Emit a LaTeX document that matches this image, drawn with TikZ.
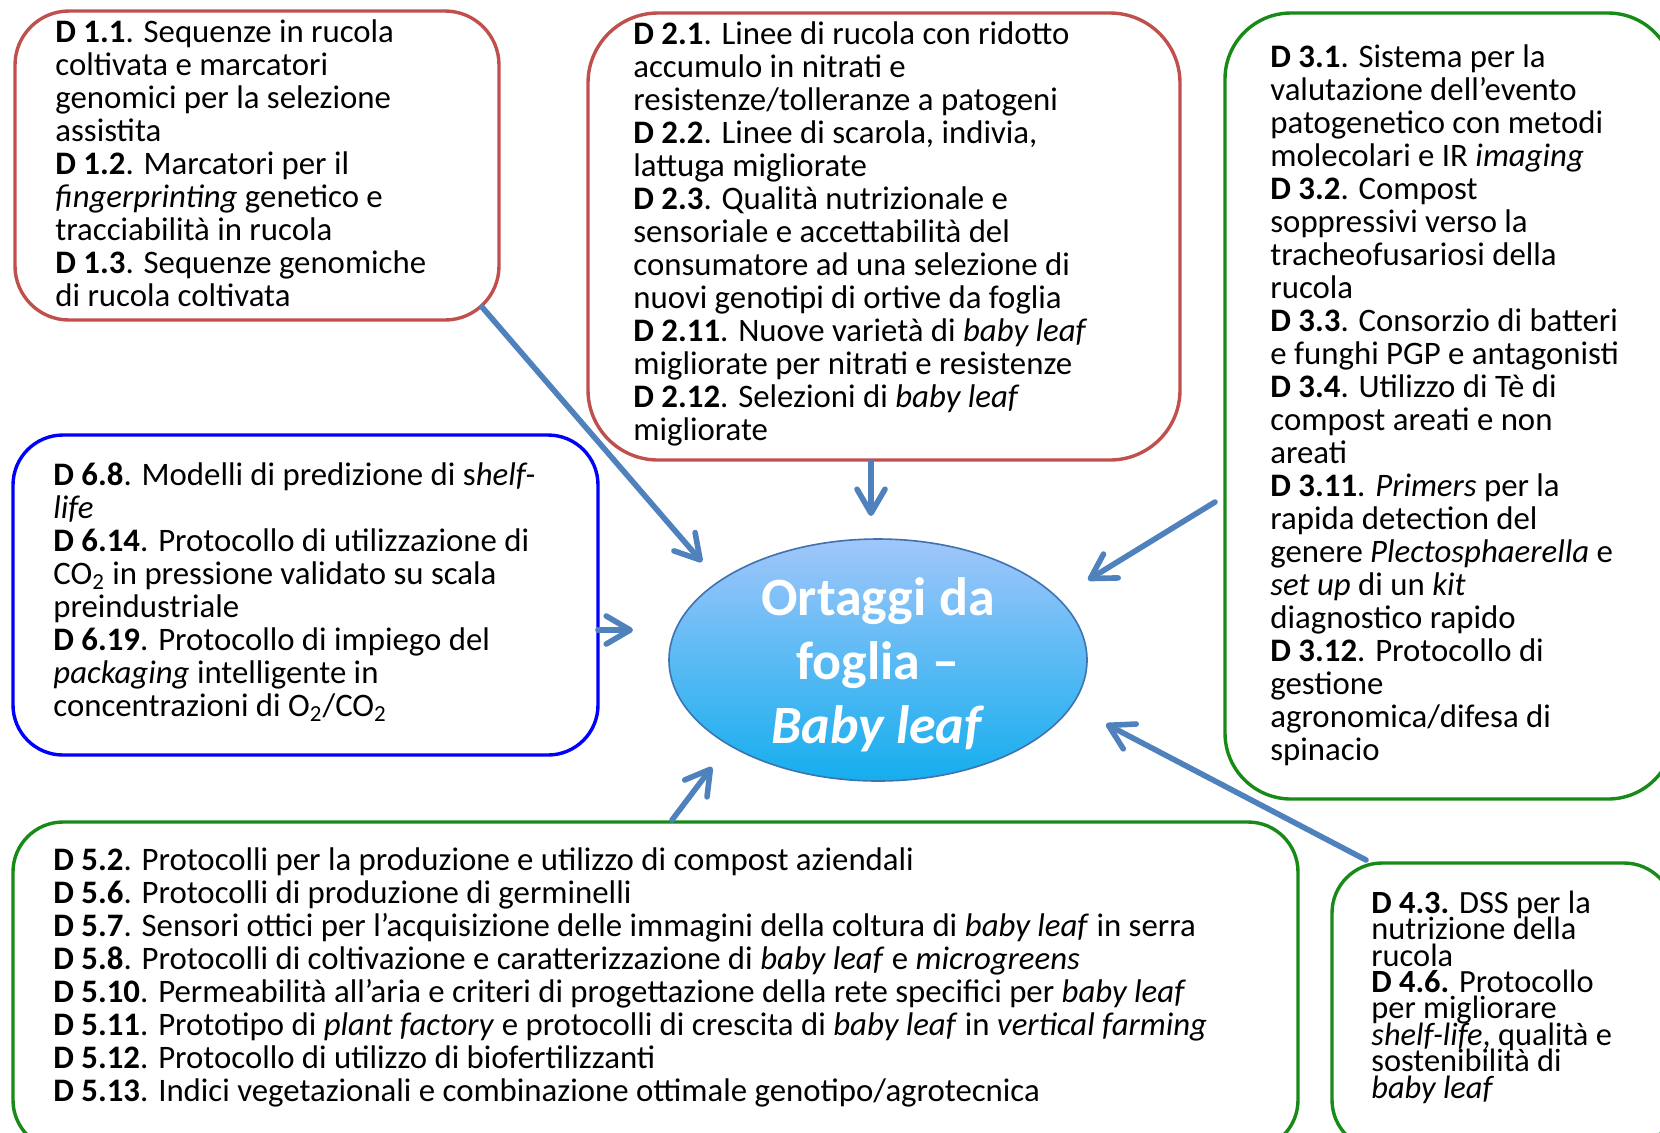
\documentclass[tikz,border=0pt]{standalone}
\usepackage{fontspec}
\setmainfont{Carlito}
\usepackage{tikz}
\usetikzlibrary{arrows.meta, fit, shapes.geometric}

\definecolor{rosso}{HTML}{C0504D}
\definecolor{verde}{HTML}{178A17}
\definecolor{blu}{HTML}{0000FF}
\definecolor{azzurro}{HTML}{4F81BD}
\definecolor{celestino}{HTML}{A0C6FA}
\definecolor{celeste}{HTML}{15AEEE}
\definecolor{bordoellisse}{HTML}{3F72AF}

% interlinea stretta per il riquadro D 4
\newcommand{\interlineastretta}{\fontsize{16.2}{13.2}\selectfont\lineskiplimit=-100pt\relax}

\begin{document}
\begin{tikzpicture}[x=0.5pt, y=-0.5pt,
  riquadro/.style={draw, line width=1.7pt, fill=white, inner sep=0pt},
  testo/.style={anchor=base west, align=left, inner sep=0pt,
    font=\fontsize{16.4}{16.5}\selectfont},
  freccia/.style={draw=azzurro, line width=2.8pt, line cap=round,
    -{Straight Barb[round, length=12pt, width=14pt]}}]

  % area visibile
  \clip (0,0) rectangle (1660,1132);

  % riquadri
  \node[riquadro, draw=rosso, rounded corners=27pt, fit={(15,11) (499,320)}] (d1) {};
  \node[riquadro, draw=rosso, rounded corners=35pt, fit={(588,13) (1180,460)}] (d2) {};
  \node[riquadro, draw=verde, rounded corners=33pt, fit={(1225,13) (1674,799)}] (d3) {};
  \node[riquadro, draw=blu, rounded corners=25pt, fit={(13,435) (598,755)}] (d6) {};
  \node[riquadro, draw=verde, rounded corners=25pt, fit={(13,822) (1298,1150)}] (d5) {};
  \node[riquadro, draw=verde, rounded corners=25pt, fit={(1332,863) (1674,1150)}] (d4) {};

  % testi dei riquadri (ancorati alla base dell'ultima riga)
  \node[testo] (t1) at (55,306) {\textbf{D 1.1}. Sequenze in rucola\\
    coltivata e marcatori\\
    genomici per la selezione\\
    assistita\\
    \textbf{D 1.2}. Marcatori per il\\
    \textit{fingerprinting} genetico e\\
    tracciabilità in rucola\\
    \textbf{D 1.3}. Sequenze genomiche\\
    di rucola coltivata};

  \node[testo] (t2) at (633,440) {\textbf{D 2.1}. Linee di rucola con ridotto\\
    accumulo in nitrati e\\
    resistenze/tolleranze a patogeni\\
    \textbf{D 2.2}. Linee di scarola, indivia,\\
    lattuga migliorate\\
    \textbf{D 2.3}. Qualità nutrizionale e\\
    sensoriale e accettabilità del\\
    consumatore ad una selezione di\\
    nuovi genotipi di ortive da foglia\\
    \textbf{D 2.11}. Nuove varietà di \textit{baby leaf}\\
    migliorate per nitrati e resistenze\\
    \textbf{D 2.12}. Selezioni di \textit{baby leaf}\\
    migliorate};

  \node[testo] (t3) at (1270,760) {\textbf{D 3.1}. Sistema per la\\
    valutazione dell’evento\\
    patogenetico con metodi\\
    molecolari e IR \textit{imaging}\\
    \textbf{D 3.2}. Compost\\
    soppressivi verso la\\
    tracheofusariosi della\\
    rucola\\
    \textbf{D 3.3}. Consorzio di batteri\\
    e funghi PGP e antagonisti\\
    \textbf{D 3.4}. Utilizzo di Tè di\\
    compost areati e non\\
    areati\\
    \textbf{D 3.11}. \textit{Primers} per la\\
    rapida detection del\\
    genere \textit{Plectosphaerella} e\\
    \textit{set up} di un \textit{kit}\\
    diagnostico rapido\\
    \textbf{D 3.12}. Protocollo di\\
    gestione\\
    agronomica/difesa di\\
    spinacio};

  \node[testo] (t6) at (53,716) {\textbf{D 6.8}. Modelli di predizione di s\textit{helf-}\\
    \textit{life}\\
    \textbf{D 6.14}. Protocollo di utilizzazione di\\
    CO\textsubscript{2} in pressione validato su scala\\
    preindustriale\\
    \textbf{D 6.19}. Protocollo di impiego del\\
    \textit{packaging} intelligente in\\
    concentrazioni di O\textsubscript{2}/CO\textsubscript{2}};

  \node[testo] (t5) at (53,1101) {\textbf{D 5.2}. Protocolli per la produzione e utilizzo di compost aziendali\\
    \textbf{D 5.6}. Protocolli di produzione di germinelli\\
    \textbf{D 5.7}. Sensori ottici per l’acquisizione delle immagini della coltura di \textit{baby leaf} in serra\\
    \textbf{D 5.8}. Protocolli di coltivazione e caratterizzazione di \textit{baby leaf} e \textit{microgreens}\\
    \textbf{D 5.10}. Permeabilità all’aria e criteri di progettazione della rete specifici per \textit{baby leaf}\\
    \textbf{D 5.11}. Prototipo di \textit{plant factory} e protocolli di crescita di \textit{baby leaf} in \textit{vertical farming}\\
    \textbf{D 5.12}. Protocollo di utilizzo di biofertilizzanti\\
    \textbf{D 5.13}. Indici vegetazionali e combinazione ottimale genotipo/agrotecnica};

  \node[testo, font=\interlineastretta] (t4) at (1371,1098) {\textbf{D 4.3.} DSS per la\\
    nutrizione della\\
    rucola\\
    \textbf{D 4.6.} Protocollo\\
    per migliorare\\
    \textit{shelf-life}, qualità e\\
    sostenibilità di\\
    \textit{baby leaf}};

  % ellisse centrale
  \node[ellipse, draw=bordoellisse, line width=0.8pt, top color=celestino, bottom color=celeste,
    minimum width=209pt, minimum height=121pt, inner sep=0pt] (centro) at (878,660) {};
  \node[text=white, align=center, font=\fontsize{27}{32}\selectfont\bfseries] (titolo) at (878,665)
    {Ortaggi da\\ foglia –\\ \textit{Baby leaf}};

  % estremi delle frecce
  \coordinate (p1) at (482,307);  \coordinate (q1) at (702,562);
  \coordinate (p2) at (871,462);  \coordinate (q2) at (871,516);
  \coordinate (p3) at (1215,502); \coordinate (q3) at (1088,580);
  \coordinate (p6) at (598,630);  \coordinate (q6) at (633,630);
  \coordinate (p5) at (672,820);  \coordinate (q5) at (712,767);
  \coordinate (p4) at (1366,860); \coordinate (q4) at (1106,724);

  % frecce verso il centro
  \draw[freccia] (p1) -- (q1);
  \draw[freccia] (p2) -- (q2);
  \draw[freccia] (p3) -- (q3);
  \draw[freccia] (p6) -- (q6);
  \draw[freccia] (p5) -- (q5);
  \draw[freccia] (p4) -- (q4);
\end{tikzpicture}
\end{document}
